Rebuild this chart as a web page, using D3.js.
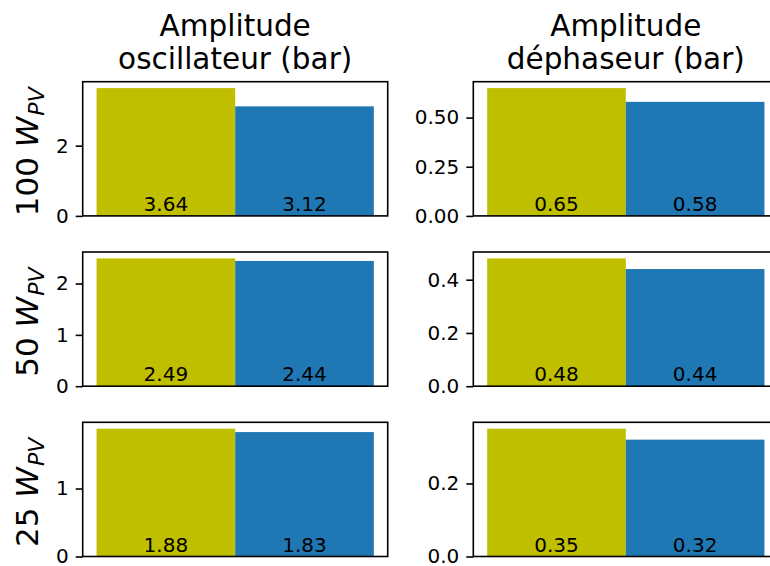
<!DOCTYPE html>
<html>
<head>
<meta charset="utf-8">
<script src="https://cdn.jsdelivr.net/npm/d3@7"></script>
<style>
  html, body { margin: 0; padding: 0; background: #fff; }
  svg { display: block; }
  text { font-family: "DejaVu Sans", sans-serif; fill: #000; }
</style>
</head>
<body>
<svg id="chart" width="770" height="566"></svg>
<script>
// ---- data ----
const rowLabels = ["100", "50", "25"];          // W_PV levels
const colTitles = [["Amplitude", "oscillateur (bar)"], ["Amplitude", "déphaseur (bar)"]];
const oscOlive = [3.64, 2.49, 1.88];
const oscBlue  = [3.12, 2.44, 1.83];
const dephOlive = [0.65, 0.48, 0.35];
const dephBlue  = [0.58, 0.44, 0.32];
const oscTicks  = [[0, 2], [0, 1, 2], [0, 1]];
const dephTicks = [[0, 0.25, 0.5], [0, 0.2, 0.4], [0, 0.2]];
const oscTickFmt = ["d", "d", "d"];
const dephTickFmt = [".2f", ".1f", ".1f"];

const colors = ["#bfbf00", "#1f77b4"];

// ---- layout ----
const svg = d3.select("#chart");
const colX = [82.7, 473.3];
const axW = 305;
const rowTop = [81.7, 252.0, 422.3];
const axH = 134.2;

const columns = [
  { olive: oscOlive, blue: oscBlue, ticks: oscTicks, fmt: oscTickFmt },
  { olive: dephOlive, blue: dephBlue, ticks: dephTicks, fmt: dephTickFmt }
];

columns.forEach((col, ci) => {
  // column title
  const cx = colX[ci] + axW / 2;
  const t = svg.append("text")
    .attr("x", cx).attr("text-anchor", "middle")
    .style("font-size", "29.5px");
  t.append("tspan").attr("x", cx).attr("y", 36).text(colTitles[ci][0]);
  t.append("tspan").attr("x", cx).attr("y", 69).text(colTitles[ci][1]);

  rowLabels.forEach((rl, ri) => {
    const vals = [col.olive[ri], col.blue[ri]];
    const maxV = d3.max(vals);
    const x = d3.scaleLinear().domain([-0.6, 1.6]).range([0, axW]);
    const y = d3.scaleLinear().domain([0, maxV * 1.05]).range([axH, 0]);

    const g = svg.append("g").attr("transform", `translate(${colX[ci]},${rowTop[ri]})`);

    // bars
    g.selectAll("rect.bar").data(vals).join("rect")
      .attr("class", "bar")
      .attr("x", (d, i) => x(i - 0.5))
      .attr("width", (d, i) => x(i + 0.5) - x(i - 0.5))
      .attr("y", d => y(d))
      .attr("height", d => y(0) - y(d))
      .attr("fill", (d, i) => colors[i]);

    // value labels at bottom
    g.selectAll("text.val").data(vals).join("text")
      .attr("class", "val")
      .attr("x", (d, i) => x(i))
      .attr("y", y(0) - 4.8)
      .attr("text-anchor", "middle")
      .style("font-size", "20px")
      .text(d => d3.format(".2f")(d));

    // y axis
    const ax = g.append("g")
      .call(d3.axisLeft(y).tickValues(col.ticks[ri]).tickFormat(d3.format(col.fmt[ri]))
        .tickSize(7).tickPadding(7).tickSizeOuter(0));
    ax.select(".domain").remove();
    ax.selectAll(".tick line").attr("stroke", "#000").attr("stroke-width", 1.6);
    ax.selectAll(".tick text").style("font-size", "20px").style("font-family", "DejaVu Sans, sans-serif").attr("fill", "#000");

    // frame
    g.append("rect")
      .attr("x", 0).attr("y", 0).attr("width", axW).attr("height", axH)
      .attr("fill", "none").attr("stroke", "#000").attr("stroke-width", 1.6);

    // row label (left column only)
    if (ci === 0) {
      const cy = rowTop[ri] + axH / 2 + 3;
      const lab = svg.append("text")
        .attr("transform", `translate(38,${cy}) rotate(-90)`)
        .attr("text-anchor", "middle")
        .style("font-size", "31px");
      lab.append("tspan").text(rl + " ");
      lab.append("tspan").style("font-style", "italic").text("W");
      lab.append("tspan").style("font-style", "italic").style("font-size", "22px")
        .attr("dx", "1").attr("dy", "6").text("PV");
    }
  });
});
</script>
</body>
</html>
